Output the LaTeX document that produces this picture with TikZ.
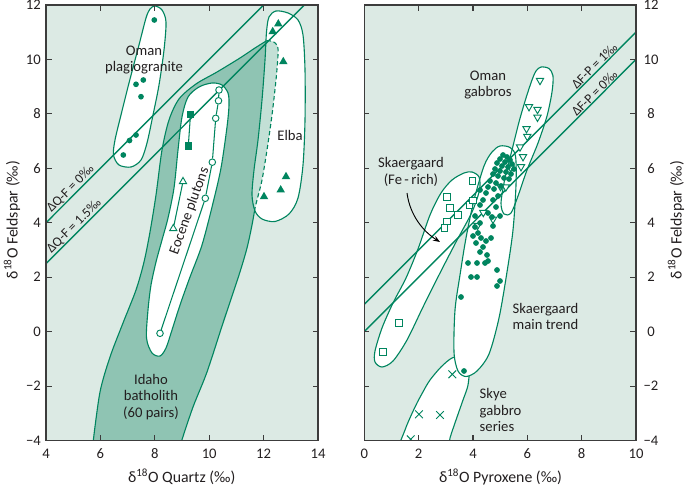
\documentclass[tikz,border=0pt]{standalone}
\usepackage{fontspec}
\setmainfont{Carlito}
\usetikzlibrary{shapes.geometric,shapes.misc,arrows.meta}
\definecolor{bgc}{HTML}{DCEAE4}
\definecolor{idaho}{HTML}{8FC4B3}
\definecolor{idaholt}{HTML}{C3E0D6}
\definecolor{gline}{HTML}{00855F}
\definecolor{framec}{HTML}{3C3C3C}
\definecolor{txt}{HTML}{231F20}
% envelopes (pixel coordinates, y downwards)
\def\idahoL{plot[smooth] coordinates {(93.3,440.5) (100,392) (110,357) (123,323) (136,290) (144,262) (150,232) (156,195) (162,150) (169,120) (179,99) (196,84) (217,72) (240,58) (255,48) (266.7,40.7)}}
\def\idahoD{plot[smooth] coordinates {(266.7,40.7) (273,41.5) (277.5,46) (278,55) (276,80) (272,115) (267,150) (262,180) (257,200) (255,208)}}
\def\idahoR{plot[smooth] coordinates {(255,208) (252,225) (247,248) (239,275) (223,323) (207,372) (193,407) (181.7,440.5)}}
\def\idahoFull{plot[smooth] coordinates {(93.3,440.5) (100,392) (110,357) (123,323) (136,290) (144,262) (150,232) (156,195) (162,150) (169,120) (179,99) (196,84) (217,72) (240,58) (255,48) (266.7,40.7)} -- plot[smooth] coordinates {(266.7,40.7) (273,41.5) (277.5,46) (278,55) (276,80) (272,115) (267,150) (262,180) (257,200) (255,208)} -- plot[smooth] coordinates {(255,208) (252,225) (247,248) (239,275) (223,323) (207,372) (193,407) (181.7,440.5)} -- (181.7,445) -- (93.3,445) -- cycle}
\def\elba{plot[smooth cycle] coordinates {(276,11) (288,13) (298,20) (303,35) (305,70) (305,120) (303,165) (298,198) (289,214) (275,221.5) (262,219) (255,211) (252,195) (254,170) (258,140) (262,100) (265,60) (266.5,32) (269,17)}}
\def\omanp{plot[smooth cycle] coordinates {(155,6) (162,10) (166,22) (164,50) (159,85) (153,115) (147,143) (141,160) (131,167) (119,165) (113.5,155) (115,140) (121,115) (129,83) (139,45) (146,18) (150,9)}}
\def\eocene{plot[smooth cycle] coordinates {(160,356) (152,353) (146.5,338) (148,310) (151,285) (156,262) (162,240) (168,218) (174,188) (178,150) (182,117) (188,97) (199,87) (212,83) (222,85) (228,93) (229,105) (227,127) (221,168) (213,203) (202,245) (190,277) (180,305) (172,330) (166,348)}}
\def\fer{plot[smooth cycle] coordinates {(472,172) (479,177) (479.5,190) (472,212) (456,242) (440,273) (423,307) (407,340) (393,361) (382,367) (375,362) (375,351) (382,328) (393,303) (406,278) (418,249) (430,215) (441,193) (452,180) (464,173)}}
\def\mtr{plot[smooth cycle] coordinates {(500,146) (510,147.5) (515.5,156) (516,185) (513,230) (507,272) (499,318) (489,354) (477,371) (466,376.5) (458,371) (454,352) (455,310) (460,275) (466,238) (474,200) (484,166) (492,152)}}
\def\omg{plot[smooth cycle] coordinates {(541,67) (549,68.5) (553,76) (552,92) (547,116) (538,143) (527,170) (518,196) (511,213) (504,214) (501,203) (505,178) (512,150) (519,122) (526,98) (532,80) (536,71)}}
\def\sky{plot[smooth cycle] coordinates {(430,380) (441,367) (452,358) (462,357) (469,366) (468,385) (463,400) (456,420) (450,438) (446,455) (420,470) (398,455) (405,430) (415,407) (424,390)}}
\begin{document}
\begin{tikzpicture}[x=0.03cm,y=-0.03cm,
  envl/.style={draw=gline,line width=0.95pt},
  dline/.style={draw=gline,line width=1.2pt},
  tk/.style={draw=framec,line width=0.9pt},
  frm/.style={draw=framec,line width=1.2pt},
  fdot/.style={circle,fill=gline,inner sep=0pt,minimum size=4.9pt},
  odot/.style={circle,draw=gline,fill=white,line width=0.8pt,inner sep=0pt,minimum size=5.6pt},
  fsq/.style={rectangle,fill=gline,inner sep=0pt,minimum size=6.4pt},
  osq/.style={rectangle,draw=gline,fill=white,line width=0.8pt,inner sep=0pt,minimum size=5.8pt},
  ftri/.style={regular polygon,regular polygon sides=3,fill=gline,inner sep=0pt,minimum size=8.4pt},
  otri/.style={regular polygon,regular polygon sides=3,draw=gline,fill=white,line width=0.8pt,inner sep=0pt,minimum size=7pt},
  itri/.style={regular polygon,regular polygon sides=3,shape border rotate=180,draw=gline,fill=white,line width=0.8pt,inner sep=0pt,minimum size=7.2pt},
  xmk/.style={cross out,draw=gline,line width=0.8pt,inner sep=0pt,minimum size=5.8pt},
  lab/.style={font=\fontsize{12.5}{14.2}\selectfont,text=txt,inner sep=0pt},
  llab/.style={font=\fontsize{11.5}{13}\selectfont,text=txt,inner sep=0.8pt,anchor=south west,rotate=45},
  tick/.style={font=\fontsize{12.5}{14}\selectfont,text=txt,inner sep=0pt},
  axl/.style={font=\fontsize{13.5}{16}\selectfont,text=txt,inner sep=0pt}]
\useasboundingbox (0,0) rectangle (685,487);
% ================= LEFT PANEL =================
\fill[bgc] (46,5) rectangle (318,440.5);
\begin{scope}
\clip (46,5) rectangle (318,440.5);
\fill[idaho] \idahoFull;
\fill[white] \elba;
\begin{scope}
\clip \elba;
\fill[idaholt] \idahoFull;
\end{scope}
\fill[white] \omanp;
\fill[white] \eocene;
\draw[envl] \elba;
\draw[envl] \omanp;
\draw[envl] \eocene;
\draw[envl] \idahoL;
\draw[envl,dash pattern=on 3.6pt off 2.4pt] \idahoD;
\draw[envl] \idahoR;
% reference lines
\coordinate (qa0) at (46,222.76); \coordinate (qb0) at (263.6,5);
\coordinate (qa1) at (46,263.6); \coordinate (qb1) at (304.4,5);
\draw[dline] (qa0) -- (qb0);
\draw[dline] (qa1) -- (qb1);
% Oman plagiogranite
\foreach \p [count=\i] in {(154.3,20),(143.3,80),(136,84.3),(141,96.7),(136,135),(129.5,140.5),(123.3,155)}
  \node[fdot] (op\i) at \p {};
% Elba
\foreach \p [count=\i] in {(278.3,24),(272.7,31.7),(283.3,61.7),(286,176.7),(280.7,190),(264,196.7)}
  \node[ftri] (el\i) at \p {};
% Eocene plutons
\node[fsq] (sq1) at (190.5,114.3) {};
\node[fsq] (sq2) at (188.3,146) {};
\draw[gline,line width=0.9pt] (sq1) -- (sq2);
\node[otri] (ot1) at (183,181.5) {};
\node[otri] (ot2) at (173.3,228.5) {};
\draw[gline,line width=0.9pt] (ot1) -- (ot2);
\foreach \p [count=\i] in {(160,333.3),(205.3,198.3),(212.3,162.2),(215.7,118.3),(218.5,100.8),(219,90)}
  \node[odot] (ec\i) at \p {};
\draw[gline,line width=0.9pt] (ec1) -- (ec2) -- (ec3) -- (ec4) -- (ec5) -- (ec6);
\end{scope}
\draw[frm] (46,5) rectangle (318,440.5);
% labels left
\node[lab,align=center] (lomanp) at (144,60) {Oman\\plagiogranite};
\node[lab,rotate=70] (leoc) at (189.5,211) {Eocene plutons};
\node[lab] (lelba) at (290,135) {Elba};
\node[lab,align=center] (lidaho) at (151,397) {Idaho\\batholith\\(60 pairs)};
\node[llab] (lq0) at (53,215.8) {ΔQ-F = 0‰};
\node[llab] (lq1) at (53,256.6) {ΔQ-F = 1.5‰};
% ================= RIGHT PANEL =================
\fill[bgc] (364.3,5) rectangle (636,440.5);
\begin{scope}
\clip (364.3,5) rectangle (636,440.5);
\fill[white] \sky;
\draw[envl] \sky;
\fill[white] \fer;
\fill[white] \mtr;
\fill[white] \omg;
\draw[envl] \fer;
\draw[envl] \mtr;
\draw[envl] \omg;
\coordinate (pa1) at (364.3,304.4); \coordinate (pb1) at (636,32.2);
\coordinate (pa0) at (364.3,331.64); \coordinate (pb0) at (636,59.44);
\draw[dline] (pa1) -- (pb1);
\draw[dline] (pa0) -- (pb0);
% Skye crosses
\foreach \p [count=\i] in {(452.3,374.3),(419,414.3),(440,415),(410.7,439.3)}
  \node[xmk] (sk\i) at \p {};
% Fe-rich squares
\foreach \p [count=\i] in {(472.5,181),(446.7,197.3),(450,208.3),(457.7,215),(446.7,221.5),(444.5,228),(469.5,205),(473,200.5),(399.3,323.3),(383.3,351.7)}
  \node[osq] (fr\i) at \p {};
% Oman gabbros inverted triangles
\foreach \p [count=\i] in {(540,80.5),(529,106.7),(537.5,109.5),(537.5,117.3),(526.5,128.7),(527.3,136.5),(520,147),(523,156.7),(521,166.7),(510.5,167.5),(500.5,186.5),(505.8,187),(483.3,212.5),(493,219.3),(477.5,225.5)}
  \node[itri] (og\i) at \p {};
% Skaergaard main trend dots
\foreach \p [count=\i] in {(503,155),(507,157),(510,160),(500,159),(505,162),(512,164),(497,163),(502,166),(508,167),(514,169),(495,169),(500,171),(506,172),(511,174),(493,174),(498,176),(504,178),(509,179),(490,181),(496,183),(501,186),(488,187),(494,189),(480,190),(486,193),(498,196),(483,200),(493,200),(480,205),(496,207),(475,216),(488,213),(492,217),(500,216),(480,223),(493,226),(475,227),(478,233),(473,236),(481,238),(486,241),(491,238),(476,243),(483,247),(480,252),(487,255),(488,261),(485,263),(468,263),(477,263),(497,270),(471,277),(477,277),(500,281),(497,286),(461,297),(464,371)}
  \node[fdot] (mt\i) at \p {};
\end{scope}
\draw[frm] (364.3,5) rectangle (636,440.5);
% labels right
\node[lab,align=center] (lomg) at (488,85) {Oman\\gabbros};
\node[lab,align=center] (lfer) at (411,172) {Skaergaard\\(Fe\,-\,rich)};
\node[lab,align=left,anchor=west] (lmtr) at (512.5,316.5) {Skaergaard\\main trend};
\node[lab,align=left,anchor=west] (lsky) at (479.5,410) {Skye\\gabbro\\series};
\node[llab] (lp1) at (577,91.3) {ΔF-P = 1‰};
\node[llab] (lp0) at (577,118.5) {ΔF-P = 0‰};
\coordinate (arS) at (407,193);
\coordinate (arE) at (440,242);
\draw[black,line width=0.8pt,-{Stealth[length=6pt,width=4.5pt]}] (arS) .. controls (410,216) and (424,232) .. (arE);
% ================= TICKS =================
\foreach \v in {10,8,...,-2}{
  \pgfmathsetmacro\yy{5+(12-\v)*27.22}
  \draw[tk] (46,\yy) -- ++(6,0);
  \draw[tk] (318,\yy) -- ++(-5,0);
  \draw[tk] (364.3,\yy) -- ++(5,0);
  \draw[tk] (636,\yy) -- ++(-6,0);
}
\foreach \v in {6,8,10,12}{
  \pgfmathsetmacro\xx{46+(\v-4)*27.2}
  \draw[tk] (\xx,5) -- ++(0,6);
  \draw[tk] (\xx,440.5) -- ++(0,-6);
}
\foreach \v in {2,4,6,8}{
  \pgfmathsetmacro\xx{364.3+\v*27.17}
  \draw[tk] (\xx,5) -- ++(0,6);
  \draw[tk] (\xx,440.5) -- ++(0,-6);
}
\foreach \v/\t [count=\i] in {12/12,10/10,8/8,6/6,4/4,2/2,0/0,-2/−2,-4/−4}{
  \pgfmathsetmacro\yy{5+(12-\v)*27.22}
  \node[tick,anchor=east] (tyl\i) at (41,\yy) {\t};
  \node[tick] (tyr\i) at (651,\yy) {\t};
}
\foreach \v [count=\i] in {4,6,...,14}{
  \pgfmathsetmacro\xx{46+(\v-4)*27.2}
  \node[tick] (txl\i) at (\xx,454) {\v};
}
\foreach \v [count=\i] in {0,2,...,10}{
  \pgfmathsetmacro\xx{364.3+\v*27.17}
  \node[tick] (txr\i) at (\xx,454) {\v};
}
% axis titles
\node[axl,rotate=90] (ylabL) at (12,220) {δ\textsuperscript{18}O Feldspar (‰)};
\node[axl,rotate=90] (ylabR) at (676,220) {δ\textsuperscript{18}O Feldspar (‰)};
\node[axl] (xlabL) at (181.7,477) {δ\textsuperscript{18}O Quartz (‰)};
\node[axl] (xlabR) at (500.5,477) {δ\textsuperscript{18}O Pyroxene (‰)};
\end{tikzpicture}
\end{document}
